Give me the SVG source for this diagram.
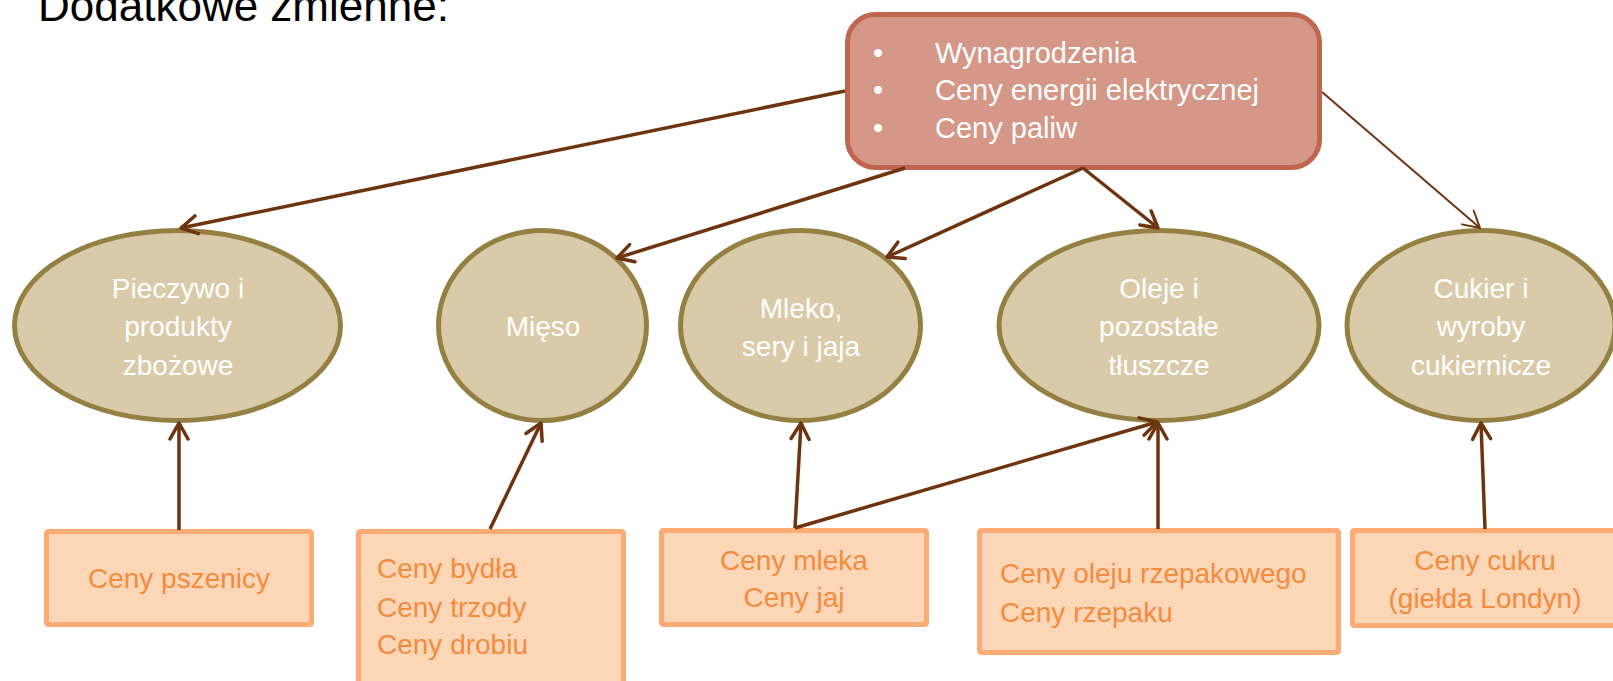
<svg xmlns="http://www.w3.org/2000/svg" width="1613" height="681" viewBox="0 0 1613 681">
  <style>
    .ell { fill: #D9CBA9; stroke: #958044; stroke-width: 5; }
    .etxt { font-family: "Liberation Sans", Arial, sans-serif; font-size: 28px; fill: #FFFFFF; text-anchor: middle; }
    .obox { fill: #FBD6B7; stroke: #FBAB73; stroke-width: 5; }
    .otxt { font-family: "Liberation Sans", Arial, sans-serif; font-size: 28px; fill: #F58B3D; }
    .mid { text-anchor: middle; }
    .top { fill: #D59787; stroke: #C0654E; stroke-width: 5; }
    .ttxt { font-family: "Liberation Sans", Arial, sans-serif; font-size: 29px; fill: #FFFFFF; }
    .con { stroke: #6E340F; stroke-width: 3.5; fill: none; marker-end: url(#arr); }
    .con.thin { stroke-width: 2; marker-end: url(#arrThin); }
  </style>
  <defs>
    <marker id="arr" viewBox="0 0 22 22" refX="19" refY="11" markerWidth="22" markerHeight="22" markerUnits="userSpaceOnUse" orient="auto">
      <path d="M3,2 L19,11 L3,20" fill="none" stroke="#6E340F" stroke-width="3.5" stroke-linecap="round" stroke-linejoin="round"/>
    </marker>
    <marker id="arrThin" viewBox="0 0 22 22" refX="19" refY="11" markerWidth="22" markerHeight="22" markerUnits="userSpaceOnUse" orient="auto">
      <path d="M3,2 L19,11 L3,20" fill="none" stroke="#6E340F" stroke-width="2" stroke-linecap="round" stroke-linejoin="round"/>
    </marker>
  </defs>

  <text id="title" x="38" y="21" font-family="Liberation Sans, Arial, sans-serif" font-size="44" fill="#000000">Dodatkowe zmienne:</text>

  <g id="koszty">
    <rect class="top" x="847.5" y="14.5" width="472" height="153" rx="28" ry="28"/>
    <text class="ttxt" x="873" y="63">•</text>
    <text class="ttxt" x="935" y="63">Wynagrodzenia</text>
    <text class="ttxt" x="873" y="100">•</text>
    <text class="ttxt" x="935" y="100">Ceny energii elektrycznej</text>
    <text class="ttxt" x="873" y="138">•</text>
    <text class="ttxt" x="935" y="138">Ceny paliw</text>
  </g>

  <g id="pieczywo">
    <ellipse class="ell" cx="177.5" cy="325.5" rx="163" ry="95"/>
    <text class="etxt" x="178" y="298">Pieczywo i</text>
    <text class="etxt" x="178" y="336">produkty</text>
    <text class="etxt" x="178" y="375">zbożowe</text>
  </g>
  <g id="mieso">
    <ellipse class="ell" cx="542.5" cy="325.5" rx="104" ry="95"/>
    <text class="etxt" x="543" y="336">Mięso</text>
  </g>
  <g id="mleko">
    <ellipse class="ell" cx="800.5" cy="325.5" rx="120" ry="95"/>
    <text class="etxt" x="801" y="318">Mleko,</text>
    <text class="etxt" x="801" y="356">sery i jaja</text>
  </g>
  <g id="oleje">
    <ellipse class="ell" cx="1159" cy="325.5" rx="160" ry="95"/>
    <text class="etxt" x="1159" y="298">Oleje i</text>
    <text class="etxt" x="1159" y="336">pozostałe</text>
    <text class="etxt" x="1159" y="375">tłuszcze</text>
  </g>
  <g id="cukier">
    <ellipse class="ell" cx="1481" cy="325.5" rx="134" ry="95"/>
    <text class="etxt" x="1481" y="298">Cukier i</text>
    <text class="etxt" x="1481" y="336">wyroby</text>
    <text class="etxt" x="1481" y="375">cukiernicze</text>
  </g>

  <g id="pszenica">
    <rect class="obox" x="46.5" y="531.5" width="265" height="93" rx="2"/>
    <text class="otxt mid" x="179" y="588">Ceny pszenicy</text>
  </g>
  <g id="zwierzeta">
    <rect class="obox" x="358.5" y="531.5" width="265" height="170" rx="2"/>
    <text class="otxt" x="377" y="578">Ceny bydła</text>
    <text class="otxt" x="377" y="617">Ceny trzody</text>
    <text class="otxt" x="377" y="654">Ceny drobiu</text>
  </g>
  <g id="mleko-jaja">
    <rect class="obox" x="661.5" y="530.5" width="265" height="94" rx="2"/>
    <text class="otxt mid" x="794" y="570">Ceny mleka</text>
    <text class="otxt mid" x="794" y="607">Ceny jaj</text>
  </g>
  <g id="rzepak">
    <rect class="obox" x="979.5" y="530.5" width="359" height="122" rx="2"/>
    <text class="otxt" x="1000" y="583">Ceny oleju rzepakowego</text>
    <text class="otxt" x="1000" y="622">Ceny rzepaku</text>
  </g>
  <g id="cukier-ceny">
    <rect class="obox" x="1352.5" y="530.5" width="270" height="95" rx="2"/>
    <text class="otxt mid" x="1485" y="570">Ceny cukru</text>
    <text class="otxt mid" x="1485" y="608">(giełda Londyn)</text>
  </g>

  <g id="connectors">
    <line class="con" x1="845" y1="91" x2="181" y2="228"/>
    <line class="con" x1="905" y1="168" x2="617" y2="258"/>
    <line class="con" x1="1083" y1="168" x2="887" y2="257"/>
    <line class="con" x1="1083" y1="168" x2="1158" y2="228"/>
    <line class="con thin" x1="1322" y1="92" x2="1480" y2="228"/>
    <line class="con" x1="179" y1="530" x2="179" y2="423"/>
    <line class="con" x1="490" y1="529" x2="541" y2="423"/>
    <line class="con" x1="795" y1="528" x2="801" y2="423"/>
    <line class="con" x1="795" y1="528" x2="1157" y2="422"/>
    <line class="con" x1="1158" y1="529" x2="1158" y2="423"/>
    <line class="con" x1="1485" y1="529" x2="1481" y2="423"/>
  </g>
</svg>
